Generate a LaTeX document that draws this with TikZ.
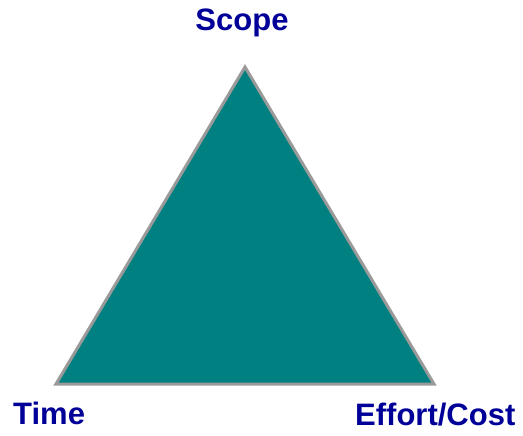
\documentclass[tikz,border=0pt]{standalone}
\usepackage{fontspec}
\setmainfont{Liberation Sans}
\definecolor{tealfill}{HTML}{008080}
\definecolor{edgegray}{HTML}{9A9A9A}
\definecolor{labelblue}{HTML}{000099}
\tikzset{
    corner/.style={inner sep=0pt, text=labelblue, font=\bfseries\fontsize{31}{34}\selectfont},
}
\begin{document}
\begin{tikzpicture}[x=1pt, y=-1pt]
    \useasboundingbox (0,0) rectangle (523,436);

    \coordinate (top) at (245,67);
    \coordinate (left) at (56,384);
    \coordinate (right) at (434,384);

    \filldraw[fill=tealfill, draw=edgegray, line width=3pt, line join=miter]
        (top) -- (left) -- (right) -- cycle;

    \node[corner, anchor=base] (scope) at (242,31) {Scope};
    \node[corner, anchor=base west] (time) at (13,424) {Time};
    \node[corner, anchor=base west] (cost) at (355,425) {Effort/Cost};

\end{tikzpicture}
\end{document}
